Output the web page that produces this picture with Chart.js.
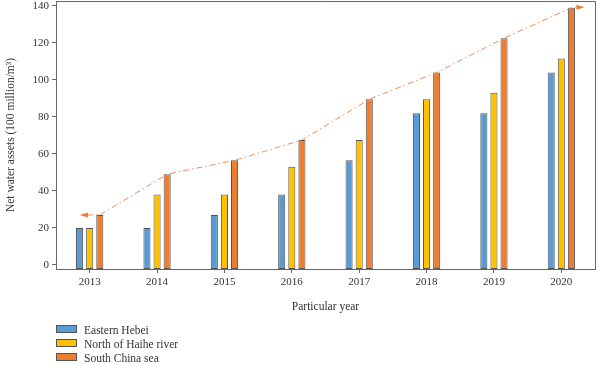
<!DOCTYPE html>
<html lang="en">
  <head>
    <meta charset="utf-8" />
    <title>Net water assets</title>
    <style>
      body { margin: 0; background: #fff; }
      .chartBox { position: relative; width: 600px; height: 366px; }
      #legend {
        position: absolute; left: 56px; top: 323px;
        font-family: "Liberation Serif", serif; font-size: 11.5px; color: #333;
      }
      #legend div { height: 14px; line-height: 14px; white-space: nowrap; }
      #legend span {
        display: inline-block; width: 19px; height: 6px; margin-right: 7px;
        border: 1px solid #555; vertical-align: 1px;
      }
    </style>
  </head>
  <body>
    <div class="chartBox">
      <canvas id="myChart" width="600" height="366"></canvas>
      <div id="legend"></div>
    </div>
    <script src="https://cdn.jsdelivr.net/npm/chart.js"></script>
    <script>
      const years = ["2013", "2014", "2015", "2016", "2017", "2018", "2019", "2020"];
      const easternHebei = [20, 20, 27, 38, 56.5, 82, 82, 104];
      const northHaihe = [20, 38, 38, 53, 67.5, 89.5, 93, 111.5];
      const southChinaSea = [27, 49, 56.5, 67.5, 89.5, 104, 122.5, 139];
      const seriesNames = ["Eastern Hebei", "North of Haihe river", "South China sea"];
      const colors = ["#5b9bd5", "#ffc000", "#ed7d31"];

      const yMin = -2.2;
      const yMax = 142.6;
      const font = "'Liberation Serif', serif";

      function barSet(i, values) {
        return {
          label: seriesNames[i],
          data: values,
          backgroundColor: colors[i],
          borderColor: "#555",
          borderWidth: 1,
          borderSkipped: false,
          base: yMin,
          barPercentage: 0.7,
          categoryPercentage: 0.45,
        };
      }

      // dash-dot trend line over the orange bar tops, with arrows at both ends
      const trendLine = {
        id: "trendLine",
        afterDatasetsDraw(chart) {
          const pts = chart.getDatasetMeta(2).data;
          const ctx = chart.ctx;
          const first = pts[0];
          const last = pts[pts.length - 1];
          ctx.save();
          ctx.strokeStyle = "#f08c4a";
          ctx.fillStyle = "#f07a2e";
          ctx.lineWidth = 1;
          ctx.setLineDash([6, 3, 1.5, 3]);
          ctx.beginPath();
          ctx.moveTo(first.x - 13, first.y);
          pts.forEach((p) => ctx.lineTo(p.x, p.y));
          ctx.lineTo(last.x + 5, last.y - 0.5);
          ctx.stroke();
          ctx.setLineDash([]);
          ctx.beginPath();
          ctx.moveTo(first.x - 20, first.y);
          ctx.lineTo(first.x - 12, first.y - 2.5);
          ctx.lineTo(first.x - 12, first.y + 2.5);
          ctx.closePath();
          ctx.fill();
          ctx.beginPath();
          ctx.moveTo(last.x + 13, last.y - 0.5);
          ctx.lineTo(last.x + 5, last.y - 3);
          ctx.lineTo(last.x + 5, last.y + 2);
          ctx.closePath();
          ctx.fill();
          ctx.restore();
        },
      };

      const frame = {
        id: "frame",
        afterDraw(chart) {
          const a = chart.chartArea;
          const ctx = chart.ctx;
          ctx.save();
          ctx.strokeStyle = "#666";
          ctx.lineWidth = 1;
          ctx.beginPath();
          ctx.moveTo(a.left, a.top + 0.5);
          ctx.lineTo(a.right + 0.5, a.top + 0.5);
          ctx.lineTo(a.right + 0.5, a.bottom);
          ctx.stroke();
          ctx.restore();
        },
      };

      const config = {
        type: "bar",
        data: {
          labels: years,
          datasets: [
            barSet(0, easternHebei),
            barSet(1, northHaihe),
            barSet(2, southChinaSea),
          ],
        },
        plugins: [trendLine, frame],
        options: {
          responsive: false,
          animation: false,
          layout: { padding: { top: 1, right: 5, bottom: 48, left: 0 } },
          plugins: {
            legend: { display: false },
            tooltip: { enabled: false },
          },
          scales: {
            x: {
              afterFit(scale) {
                scale.height = 49;
                scale.paddingLeft = 0;
                scale.paddingRight = 0;
              },
              grid: { display: true, drawOnChartArea: false, offset: false, tickLength: 4, color: "#666" },
              border: { color: "#666" },
              ticks: { color: "#333", font: { family: font, size: 11 }, padding: 3 },
              title: {
                display: true,
                text: "Particular year",
                color: "#333",
                font: { family: font, size: 11.5 },
                padding: { top: 4, bottom: 4 },
              },
            },
            y: {
              min: yMin,
              max: yMax,
              afterFit(scale) {
                scale.width = 56;
                scale.paddingTop = 0;
                scale.paddingBottom = 0;
              },
              grid: { display: true, drawOnChartArea: false, tickLength: 4, color: "#666" },
              border: { color: "#666" },
              ticks: {
                stepSize: 20,
                includeBounds: false,
                color: "#333",
                font: { family: font, size: 11 },
                padding: 3,
              },
              title: {
                display: true,
                text: "Net water assets (100 million/m³)",
                color: "#333",
                font: { family: font, size: 11.5 },
                padding: { top: 4, bottom: 4 },
              },
            },
          },
        },
      };

      const myChart = new Chart(document.getElementById("myChart"), config);

      const legend = document.getElementById("legend");
      myChart.data.datasets.forEach((ds) => {
        const row = document.createElement("div");
        const box = document.createElement("span");
        box.style.background = ds.backgroundColor;
        row.appendChild(box);
        row.appendChild(document.createTextNode(ds.label));
        legend.appendChild(row);
      });
    </script>
  </body>
</html>
